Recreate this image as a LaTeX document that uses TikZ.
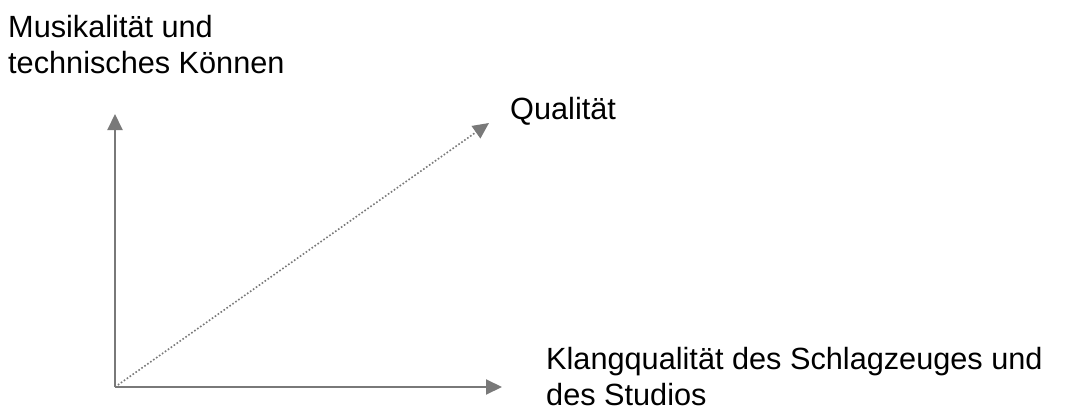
\documentclass[tikz,border=0pt]{standalone}
\usepackage{fontspec}
\setmainfont{Liberation Sans}
\usetikzlibrary{arrows.meta}

\tikzset{
  axis/.style = {draw=gray!95!black, line width=2bp, -{Triangle[length=16bp, width=15bp]}},
  quality/.style = {draw=gray!95!black, line width=1.6bp, dotted, -{Triangle[length=16bp, width=15bp]}},
  lbl/.style = {inner sep=0pt, align=left, font=\fontsize{30.8}{35.5}\selectfont}
}

\begin{document}
\begin{tikzpicture}[x=1bp, y=1bp]
  \useasboundingbox (0,0) rectangle (1077,412);

  \coordinate (origin) at (115,25);
  \coordinate (ytip) at (115,298);
  \coordinate (xtip) at (502,25);
  \coordinate (qtip) at (489,289);

  \draw[axis] (origin) -- (ytip);
  \draw[axis] (origin) -- (xtip);
  \draw[quality] (origin) -- (qtip);

  % base anchor sits on the last line
  \node[lbl, anchor=base west] (musik) at (8,339) {Musikalität und\\technisches Können};
  \node[lbl, anchor=base west] (qual) at (510,293) {Qualität};
  \node[lbl, anchor=base west] (klang) at (546,7) {Klangqualität des Schlagzeuges und\\des Studios};
\end{tikzpicture}
\end{document}
